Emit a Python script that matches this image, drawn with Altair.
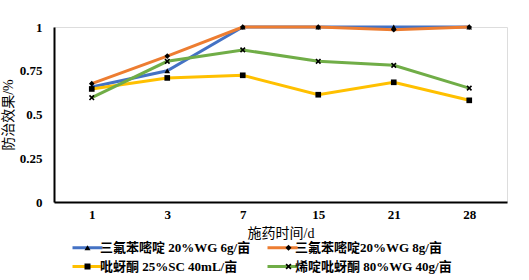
import altair as alt
import pandas as pd

days = ["1", "3", "7", "15", "21", "28"]
series = [
    "三氟苯嘧啶 20%WG 6g/亩",
    "三氟苯嘧啶20%WG 8g/亩",
    "吡蚜酮 25%SC 40mL/亩",
    "烯啶吡蚜酮 80%WG 40g/亩",
]
vals_a = [0.657, 0.75, 1.0, 1.0, 1.0, 1.0]
vals_b = [0.676, 0.834, 1.0, 1.0, 0.985, 1.0]
vals_c = [0.646, 0.709, 0.724, 0.613, 0.684, 0.581]
vals_d = [0.596, 0.804, 0.869, 0.804, 0.781, 0.651]
colors = ["#4472C4", "#ED7D31", "#FFC000", "#70AD47"]
xpath = "M-1,-0.6L-0.6,-1L0,-0.4L0.6,-1L1,-0.6L0.4,0L1,0.6L0.6,1L0,0.4L-0.6,1L-1,0.6L-0.4,0Z"
shapes = ["triangle-up", "diamond", "square", xpath]

rows = []
for name, vals in zip(series, [vals_a, vals_b, vals_c, vals_d]):
    for d, v in zip(days, vals):
        rows.append({"day": d, "series": name, "value": v})
df = pd.DataFrame(rows)

FONT = "Liberation Serif, Noto Sans CJK SC"
LX, LY = 15, 214

x = alt.X("day:N", sort=days, scale=alt.Scale(padding=0.5),
          axis=alt.Axis(title="施药时间/d", labelAngle=0, ticks=False, domain=True,
                        domainColor="black", domainWidth=2, labelPadding=6,
                        labelFontWeight="bold", labelFontSize=13, titleFontSize=14,
                        titleFontWeight="normal", titlePadding=5, grid=False))
y = alt.Y("value:Q", scale=alt.Scale(domain=[0, 1], nice=False),
          axis=alt.Axis(title="防治效果/%", values=[0, 0.25, 0.5, 0.75, 1],
                        labelExpr="datum.value + ''",
                        ticks=False, domainColor="black", domainWidth=2, grid=False,
                        labelFontWeight="bold", labelFontSize=13, labelPadding=12,
                        titleFontSize=14, titleFontWeight="normal", titlePadding=4))

line = alt.Chart(df).mark_line(strokeWidth=3).encode(
    x=x, y=y,
    color=alt.Color("series:N", sort=series,
                    scale=alt.Scale(domain=series, range=colors),
                    legend=alt.Legend(orient="none", legendX=LX, legendY=LY, columns=2,
                                      title=None, symbolType="M-5,0H5", symbolSize=36,
                                      symbolStrokeWidth=3, symbolOffset=12,
                                      labelFontSize=13, labelFontWeight="bold",
                                      labelFont=FONT, labelLimit=300, columnPadding=10,
                                      rowPadding=5, labelOffset=6,
                                      direction="horizontal")),
)
pts = alt.Chart(df).mark_point(filled=True, color="black", opacity=1, size=32).encode(
    x=x, y=y,
    shape=alt.Shape("series:N", sort=series,
                    scale=alt.Scale(domain=series, range=shapes),
                    legend=alt.Legend(orient="none", legendX=LX, legendY=LY, columns=2,
                                      title=None, symbolSize=36, symbolFillColor="black",
                                      symbolStrokeColor="black", symbolStrokeWidth=0,
                                      symbolOffset=12, labelExpr="''",
                                      labelFontSize=13, labelFont=FONT,
                                      columnPadding=170, rowPadding=5, labelOffset=6,
                                      direction="horizontal")),
)

chart = alt.layer(line, pts).resolve_scale(color="independent", shape="independent").properties(
    width=453, height=175,
    autosize=alt.AutoSizeParams(type="none"),
    padding={"left": 54, "top": 27, "right": 22, "bottom": 78},
).configure_view(stroke=None).configure(font=FONT, background="white")

chart.save("out.html", embed_options={"renderer": "svg", "actions": False})
